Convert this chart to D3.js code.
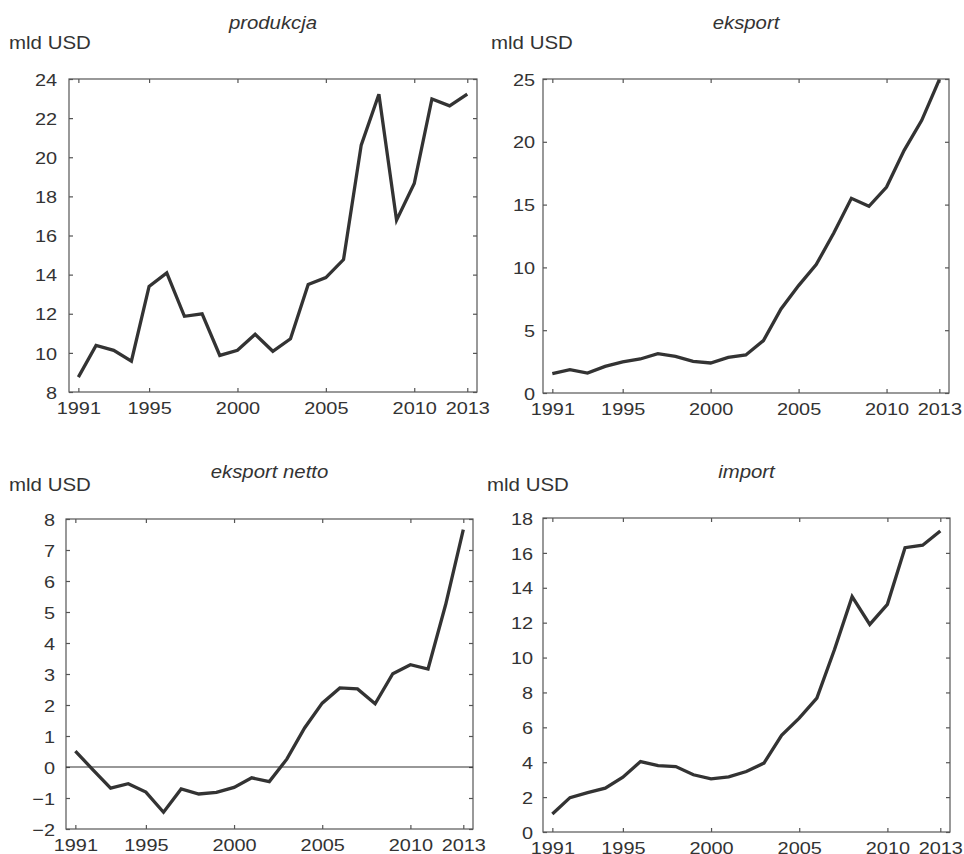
<!DOCTYPE html>
<html>
<head>
<meta charset="utf-8">
<script src="https://cdn.jsdelivr.net/npm/d3@7"></script>
<style>
  body { margin: 0; background: #fff; }
  svg text { font-family: "Liberation Sans", Arial, sans-serif; fill: #333; }
</style>
</head>
<body>
<svg width="964" height="854"></svg>
<script>
// years on the x axis
var years = d3.range(1991, 2014);
var xTicks = [1991, 1995, 2000, 2005, 2010, 2013];

// values, mld USD
var produkcja = [8.76, 10.38, 10.13, 9.58, 13.4, 14.09, 11.87, 12.0, 9.87, 10.13, 10.95, 10.08,
                 10.72, 13.5, 13.85, 14.77, 20.62, 23.22, 16.78, 18.66, 22.98, 22.63, 23.23];
var eksport = [1.54, 1.86, 1.59, 2.12, 2.47, 2.71, 3.13, 2.92, 2.52, 2.39, 2.84, 3.03,
               4.17, 6.69, 8.55, 10.22, 12.74, 15.5, 14.86, 16.4, 19.32, 21.71, 24.95];
var eksportNetto = [0.51, -0.09, -0.68, -0.54, -0.81, -1.46, -0.71, -0.87, -0.82, -0.66, -0.35, -0.47,
                    0.26, 1.26, 2.06, 2.55, 2.52, 2.04, 3.01, 3.3, 3.16, 5.24, 7.66];
var importV = [1.03, 1.97, 2.26, 2.51, 3.14, 4.04, 3.81, 3.75, 3.28, 3.05, 3.16, 3.47,
               3.95, 5.54, 6.53, 7.68, 10.46, 13.49, 11.9, 13.05, 16.3, 16.44, 17.26];

// tick values per panel
var ticksProd = d3.range(8, 25, 2);
var ticksEks = d3.range(0, 26, 5);
var ticksNetto = d3.range(-2, 9, 1);
var ticksImp = d3.range(0, 19, 2);

var panels = [
  {title: 'produkcja', data: produkcja, yDom: [8, 24], yTicks: ticksProd,
   box: {l: 69, t: 79, r: 477, b: 392}, unitX: 9, unitY: 49, titleY: 29, gap: 12},
  {title: 'eksport', data: eksport, yDom: [0, 25], yTicks: ticksEks,
   box: {l: 543, t: 79, r: 949, b: 393}, unitX: 491, unitY: 49, titleY: 29, gap: 8},
  {title: 'eksport netto', data: eksportNetto, yDom: [-2, 8], yTicks: ticksNetto,
   box: {l: 66, t: 519, r: 473, b: 829}, unitX: 9, unitY: 491, titleY: 478, gap: 11, zero: true},
  {title: 'import', data: importV, yDom: [0, 18], yTicks: ticksImp,
   box: {l: 543, t: 518, r: 950, b: 832}, unitX: 487, unitY: 491, titleY: 478, gap: 10}
];

var sx = 1.17; // the text in the picture is a bit wide
var svg = d3.select('svg');
var minus = function(d){ return d < 0 ? '\u2212' + Math.abs(d) : d; };

panels.forEach(function(p){
  var b = p.box;
  var x = d3.scaleLinear().domain([1990.47, 2013.55]).range([b.l, b.r]);
  var y = d3.scaleLinear().domain(p.yDom).range([b.b, b.t]);
  var g = svg.append('g');

  // inward ticks on all four sides
  var left = g.append('g').attr('transform', 'translate(' + b.l + ',0)')
    .call(d3.axisLeft(y).tickValues(p.yTicks).tickSize(-4).tickSizeOuter(0).tickPadding(p.gap).tickFormat(minus));
  var bottom = g.append('g').attr('transform', 'translate(0,' + b.b + ')')
    .call(d3.axisBottom(x).tickValues(xTicks).tickSize(-4).tickSizeOuter(0).tickPadding(8).tickFormat(d3.format('d')));
  g.append('g').attr('transform', 'translate(' + b.r + ',0)')
    .call(d3.axisRight(y).tickValues(p.yTicks).tickSize(-4).tickSizeOuter(0).tickFormat(''));
  g.append('g').attr('transform', 'translate(0,' + b.t + ')')
    .call(d3.axisTop(x).tickValues(xTicks).tickSize(-4).tickSizeOuter(0).tickFormat(''));
  g.selectAll('.domain').remove();
  g.selectAll('.tick line').attr('stroke', '#555').attr('stroke-width', 1.2);

  left.selectAll('text')
    .attr('font-size', 17).attr('x', -p.gap / sx).attr('dy', '0.36em')
    .attr('transform', 'scale(' + sx + ',1)');
  bottom.selectAll('text')
    .attr('font-size', 17).attr('y', 10).attr('dy', '0.71em')
    .attr('transform', 'scale(' + sx + ',1)');

  g.append('rect')
    .attr('x', b.l).attr('y', b.t).attr('width', b.r - b.l).attr('height', b.b - b.t)
    .attr('fill', 'none').attr('stroke', '#555').attr('stroke-width', 1.2);

  if (p.zero) {
    g.append('line')
      .attr('x1', b.l).attr('x2', b.r).attr('y1', y(0)).attr('y2', y(0))
      .attr('stroke', '#333').attr('stroke-width', 1.2);
  }

  var line = d3.line().x(function(d, i){ return x(years[i]); }).y(function(d){ return y(d); });
  g.append('path').datum(p.data)
    .attr('d', line).attr('fill', 'none')
    .attr('stroke', '#333').attr('stroke-width', 3.3).attr('stroke-linejoin', 'miter');

  g.append('text')
    .attr('transform', 'translate(' + ((b.l + b.r) / 2) + ',' + p.titleY + ') scale(1.1,1)')
    .attr('text-anchor', 'middle').attr('font-style', 'italic').attr('font-size', 18.5)
    .text(p.title);

  g.append('text')
    .attr('transform', 'translate(' + p.unitX + ',' + p.unitY + ') scale(' + sx + ',1)')
    .attr('font-size', 17.5)
    .text('mld USD');
});
</script>
</body>
</html>
